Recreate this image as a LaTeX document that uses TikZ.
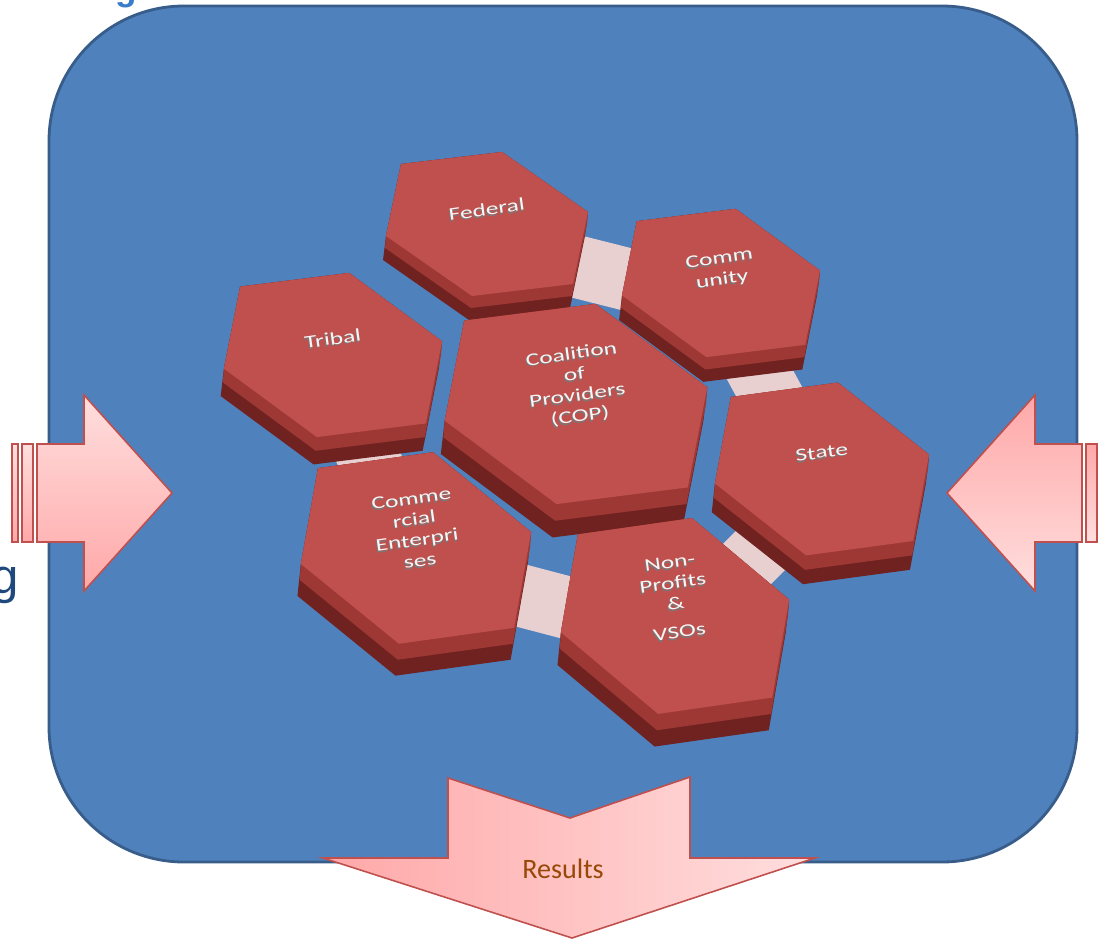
\documentclass[tikz,border=0pt]{standalone}
\usepackage{fontspec}
\usepackage{graphicx}
\usepackage{tikz}
\usetikzlibrary{positioning}
\setmainfont{Carlito}
\newfontfamily\arialfont{Liberation Sans}
\definecolor{panelblue}{RGB}{79, 129, 189}
\definecolor{paneledge}{RGB}{56, 93, 138}
\definecolor{hextop}{RGB}{192, 80, 77}
\definecolor{hexbevel}{RGB}{158, 56, 53}
\definecolor{hexside}{RGB}{112, 34, 32}
\definecolor{hextext}{RGB}{246, 246, 246}
\definecolor{hexshade}{RGB}{120, 120, 120}
\definecolor{bridgepink}{RGB}{232, 208, 208}
\definecolor{arrowlight}{RGB}{255, 222, 222}
\definecolor{arrowdark}{RGB}{255, 168, 168}
\definecolor{arrowedge}{RGB}{192, 80, 77}
\definecolor{resulttext}{RGB}{152, 72, 6}
\definecolor{titleblue}{RGB}{58, 125, 205}
\definecolor{sideblue}{RGB}{31, 73, 125}
\tikzset{panel/.style = {fill=panelblue, draw=paneledge, line width=1.6pt,
                         rounded corners=2.7cm}}
\tikzset{bridge/.style = {draw=bridgepink, line width=1.25cm}}
\tikzset{hexlabel/.style = {text=hextext, font=\fontsize{14.5}{17}\selectfont,
                            rotate=8, inner sep=0}}
\tikzset{blockarrow/.style = {draw=arrowedge, line width=0.9pt, line join=miter}}
\newcommand{\hexstack}[1]{\scalebox{1}[0.7]{%
    \rlap{\kern-0.5pt\raisebox{-1.3pt}{\color{hexshade}\begin{tabular}{@{}c@{}}#1\end{tabular}}}%
    \begin{tabular}{@{}c@{}}#1\end{tabular}}}
\newcommand{\hexcell}[4]{%
    \begin{scope}[shift={(#1)}, xscale=#2, yscale=#3]
        \fill [hexside] (-86, -60) -- (15, -72) -- (101, -12) -- (98, 12) -- (83, 84)
            -- (-18, 96) -- (-104, 36) -- (-101, 12) -- cycle;
        \fill [hexbevel] (-86, -60) -- (15, -72) -- (101, -12) -- (100, 0) -- (85, 72)
            -- (-16, 84) -- (-102, 24) -- (-101, 12) -- cycle;
        \fill [hextop] (-86, -60) -- (15, -72) -- (101, -12) -- (86, 60)
            -- (-15, 72) -- (-101, 12) -- cycle;
        \node [hexlabel] (#1-label) at (0, -12) {\hexstack{#4}};
    \end{scope}}

\begin{document}
\begin{tikzpicture}[x=0.02cm, y=-0.02cm]
    \useasboundingbox (0, 0) rectangle (1099, 940);
    \fill [white] (0, 0) rectangle (1099, 940);

    \node [font=\arialfont\bfseries\fontsize{20}{24}\selectfont, text=titleblue,
           anchor=base, inner sep=0] (titleg) at (126, 0) {g};
    \node [font=\arialfont\fontsize{28}{32}\selectfont, text=sideblue,
           anchor=base east, inner sep=0] (sideg) at (19, 593) {g};

    \draw [panel] (49, 6) rectangle (1077, 862);

    \coordinate (fed) at (487, 224);
    \coordinate (com) at (721, 283);
    \coordinate (tri) at (333, 355);
    \coordinate (cop) at (576, 404);
    \coordinate (sta) at (822, 469);
    \coordinate (cmr) at (416, 548);
    \coordinate (npo) at (675, 616);

    \foreach \a/\b in {fed/com, com/sta, sta/npo, npo/cmr, cmr/tri}
        \draw [bridge] ([yshift=-0.4cm]\a) -- ([yshift=-0.4cm]\b);

    \hexcell{fed}{1.0}{1.0}{Federal}
    \hexcell{com}{0.98}{1.03}{Comm\\unity}
    \hexcell{tri}{1.08}{1.14}{Tribal}
    \hexcell{cop}{1.3}{1.39}{Coalition\\of\\Providers\\(COP)}
    \hexcell{sta}{1.06}{1.2}{State}
    \hexcell{cmr}{1.14}{1.33}{Comme\\rcial\\Enterpri\\ses}
    \hexcell{npo}{1.13}{1.36}{Non-\\Profits\\\&\\[6pt]VSOs}

    \draw [blockarrow, top color=arrowlight, bottom color=arrowdark]
        (37, 444) -- (84, 444) -- (84, 395) -- (172, 493) -- (84, 591)
        -- (84, 542) -- (37, 542) -- cycle;
    \draw [blockarrow, top color=arrowlight, bottom color=arrowdark]
        (22, 444) rectangle (33, 542);
    \draw [blockarrow, top color=arrowlight, bottom color=arrowdark]
        (12, 444) rectangle (18, 542);

    \draw [blockarrow, top color=arrowdark, bottom color=arrowlight]
        (1082, 444) -- (1035, 444) -- (1035, 395) -- (947, 493) -- (1035, 591)
        -- (1035, 542) -- (1082, 542) -- cycle;
    \draw [blockarrow, top color=arrowdark, bottom color=arrowlight]
        (1086, 444) rectangle (1097, 542);

    \draw [blockarrow, left color=arrowdark, right color=arrowlight]
        (448, 778) -- (570, 818) -- (690, 777) -- (690, 858) -- (815, 858)
        -- (572, 938) -- (323, 858) -- (448, 858) -- cycle;
    \node [font=\fontsize{16}{19}\selectfont, text=resulttext] (results)
        at (563, 869) {Results};
\end{tikzpicture}
\end{document}
